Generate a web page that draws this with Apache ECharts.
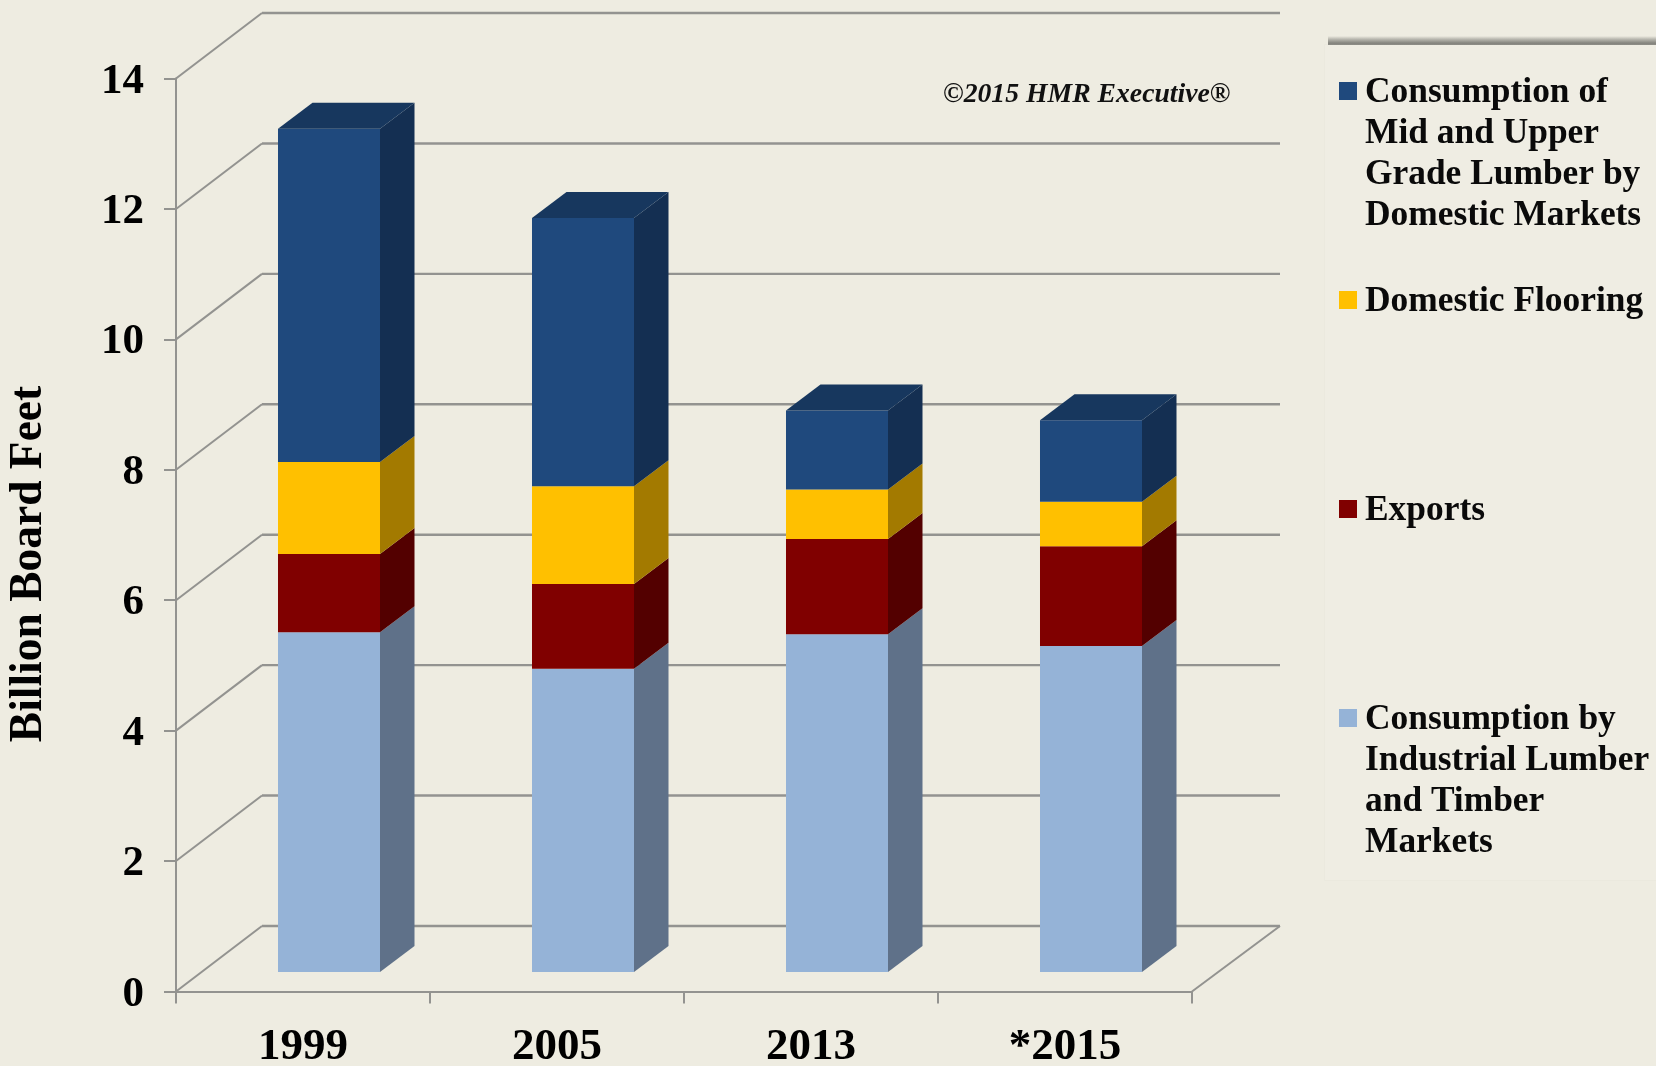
<!DOCTYPE html>
<html><head><meta charset="utf-8">
<style>html,body{margin:0;padding:0;background:#EEECE1}#c{width:1656px;height:1066px}</style>
<script src="https://cdn.jsdelivr.net/npm/echarts@6/dist/echarts.min.js"></script>
</head><body><div id="c"></div>
<script>
const categories = ['1999', '2005', '2013', '*2015'];
const yTicks = [0, 2, 4, 6, 8, 10, 12, 14];
const industrial = [5.21, 4.65, 5.18, 5.00];
const exportsVol = [1.20, 1.30, 1.46, 1.53];
const flooring = [1.41, 1.50, 0.76, 0.68];
const midUpper = [5.11, 4.11, 1.21, 1.25];
const seriesNames = [
  'Consumption by Industrial Lumber and Timber Markets',
  'Exports',
  'Domestic Flooring',
  'Consumption of Mid and Upper Grade Lumber by Domestic Markets'
];
const legendLines = [
  'Consumption by\nIndustrial Lumber\nand Timber\nMarkets',
  'Exports',
  'Domestic Flooring',
  'Consumption of\nMid and Upper\nGrade Lumber by\nDomestic Markets'
];
const seriesValues = [industrial, exportsVol, flooring, midUpper];
const frontColors = ['#95B3D7', '#800000', '#FFC000', '#1F497D'];
const sideColors = ['#5F7189', '#530000', '#A37A00', '#142F52'];
const topColor = '#17375E';
const FONT = '"Liberation Serif"';
const WALL_DX = 86, WALL_DY = 65.5;   // depth of the 3D box
const FLOOR_EXTRA = 2;
const BAR_SHIFT_X = 26, BAR_SHIFT_Y = 19.5; // where the bars stand on the floor
const BAR_DX = 34.5, BAR_DY = 26;     // depth of a bar
const BAR_FRACTION = 0.4016;
const LINE = '#939390';

const chart = echarts.init(document.getElementById('c'), null, {renderer: 'canvas'});

function wallItem(params, api) {
  const v = api.value(0);
  const cs = params.coordSys;
  const y = api.coord([0, v])[1];
  const x0 = cs.x, x1 = cs.x + cs.width;
  const children = [
    {type: 'line', shape: {x1: x0, y1: y, x2: x0 + WALL_DX, y2: y - WALL_DY},
      style: {stroke: LINE, lineWidth: 2}},
    {type: 'line', shape: {x1: x0 + WALL_DX, y1: y - WALL_DY, x2: x1 + WALL_DX + FLOOR_EXTRA, y2: y - WALL_DY},
      style: {stroke: LINE, lineWidth: 2.4}}
  ];
  if (v === 0) {
    children.push({type: 'line', shape: {x1: x1, y1: y, x2: x1 + WALL_DX + FLOOR_EXTRA, y2: y - WALL_DY},
      style: {stroke: LINE, lineWidth: 2}});
  }
  return {type: 'group', children};
}

function barItem(idx) {
  return function (params, api) {
    const c = api.value(0), lo = api.value(1), hi = api.value(2);
    const w = api.size([1, 0])[0] * BAR_FRACTION;
    const pLo = api.coord([c, lo]), pHi = api.coord([c, hi]);
    const l = pLo[0] + BAR_SHIFT_X - w / 2, r = l + w;
    const yb = pLo[1] - BAR_SHIFT_Y, yt = pHi[1] - BAR_SHIFT_Y;
    const children = [
      {type: 'polygon', shape: {points: [[r, yb], [r + BAR_DX, yb - BAR_DY], [r + BAR_DX, yt - BAR_DY], [r, yt]]},
        style: {fill: sideColors[idx]}},
      {type: 'rect', shape: {x: l, y: yt, width: w, height: yb - yt},
        style: {fill: frontColors[idx]}}
    ];
    if (idx === seriesValues.length - 1) {
      children.push({type: 'polygon', shape: {points: [[l, yt], [l + BAR_DX, yt - BAR_DY], [r + BAR_DX, yt - BAR_DY], [r, yt]]},
        style: {fill: topColor}});
    }
    return {type: 'group', children};
  };
}

const running = categories.map(() => 0);
const barSeries = seriesValues.map((vals, idx) => {
  const data = vals.map((v, i) => {
    const row = [i, running[i], running[i] + v];
    running[i] += v;
    return row;
  });
  return {type: 'custom', name: seriesNames[idx], renderItem: barItem(idx), data,
    encode: {x: 0, y: [1, 2]}, z: 3 + idx, silent: true};
});

const legendTops = [718, 509, 300, 91];
const legendGraphics = [
  {type: 'rect', left: 1324, top: 44, shape: {width: 332, height: 836},
    style: {fill: '#EFEDE3', stroke: '#EBE9DE', lineWidth: 1}, z: 1},
  {type: 'rect', left: 1328, top: 36, shape: {width: 328, height: 9},
    style: {fill: new echarts.graphic.LinearGradient(0, 0, 0, 1, [
      {offset: 0, color: 'rgba(120,120,114,0)'},
      {offset: 0.35, color: 'rgba(120,120,114,0.45)'},
      {offset: 0.8, color: 'rgba(120,120,114,0.9)'},
      {offset: 1, color: 'rgba(120,120,114,0.8)'}])}, z: 1}
];
legendLines.forEach((t, i) => {
  legendGraphics.push({type: 'rect', left: 1339, top: legendTops[i] - 9, shape: {width: 18, height: 18},
    style: {fill: frontColors[i]}, z: 2});
  legendGraphics.push({type: 'text', left: 1365, top: legendTops[i] - 19,
    style: {text: t, font: 'bold 35.4px ' + FONT, lineHeight: 41, fill: '#0a0a0a'}, z: 2});
});
legendGraphics.push({type: 'text', left: 943, top: 81,
  style: {text: '©2015 HMR Executive®', font: 'italic bold 27.7px ' + FONT, fill: '#111'}, z: 2});

chart.setOption({
  backgroundColor: '#EEECE1',
  animation: false,
  grid: {left: 176, top: 78.5, width: 1016, height: 913, outerBoundsMode: 'none'},
  xAxis: {
    type: 'category', data: categories,
    axisLine: {lineStyle: {color: LINE, width: 2}},
    axisTick: {show: true, length: 12, lineStyle: {color: LINE, width: 2}},
    axisLabel: {color: '#000', fontFamily: FONT, fontWeight: 'bold', fontSize: 45, margin: 33}
  },
  yAxis: {
    type: 'value', min: 0, max: 14, interval: 2,
    name: 'Billion Board Feet', nameLocation: 'middle', nameGap: 124,
    nameTextStyle: {color: '#000', fontFamily: FONT, fontWeight: 'bold', fontSize: 45.5, padding: [0, 0, 0, -58]},
    axisLine: {show: true, lineStyle: {color: LINE, width: 2}},
    axisTick: {show: true, length: 12, lineStyle: {color: LINE, width: 2}},
    axisLabel: {color: '#000', fontFamily: FONT, fontWeight: 'bold', fontSize: 43, margin: 32, verticalAlign: 'top', lineHeight: 6},
    splitLine: {show: false}
  },
  series: [
    {type: 'custom', name: 'walls', renderItem: wallItem, data: yTicks.map(v => [v]),
      encode: {y: 0}, z: 1, silent: true}
  ].concat(barSeries),
  graphic: legendGraphics
});
</script></body></html>
